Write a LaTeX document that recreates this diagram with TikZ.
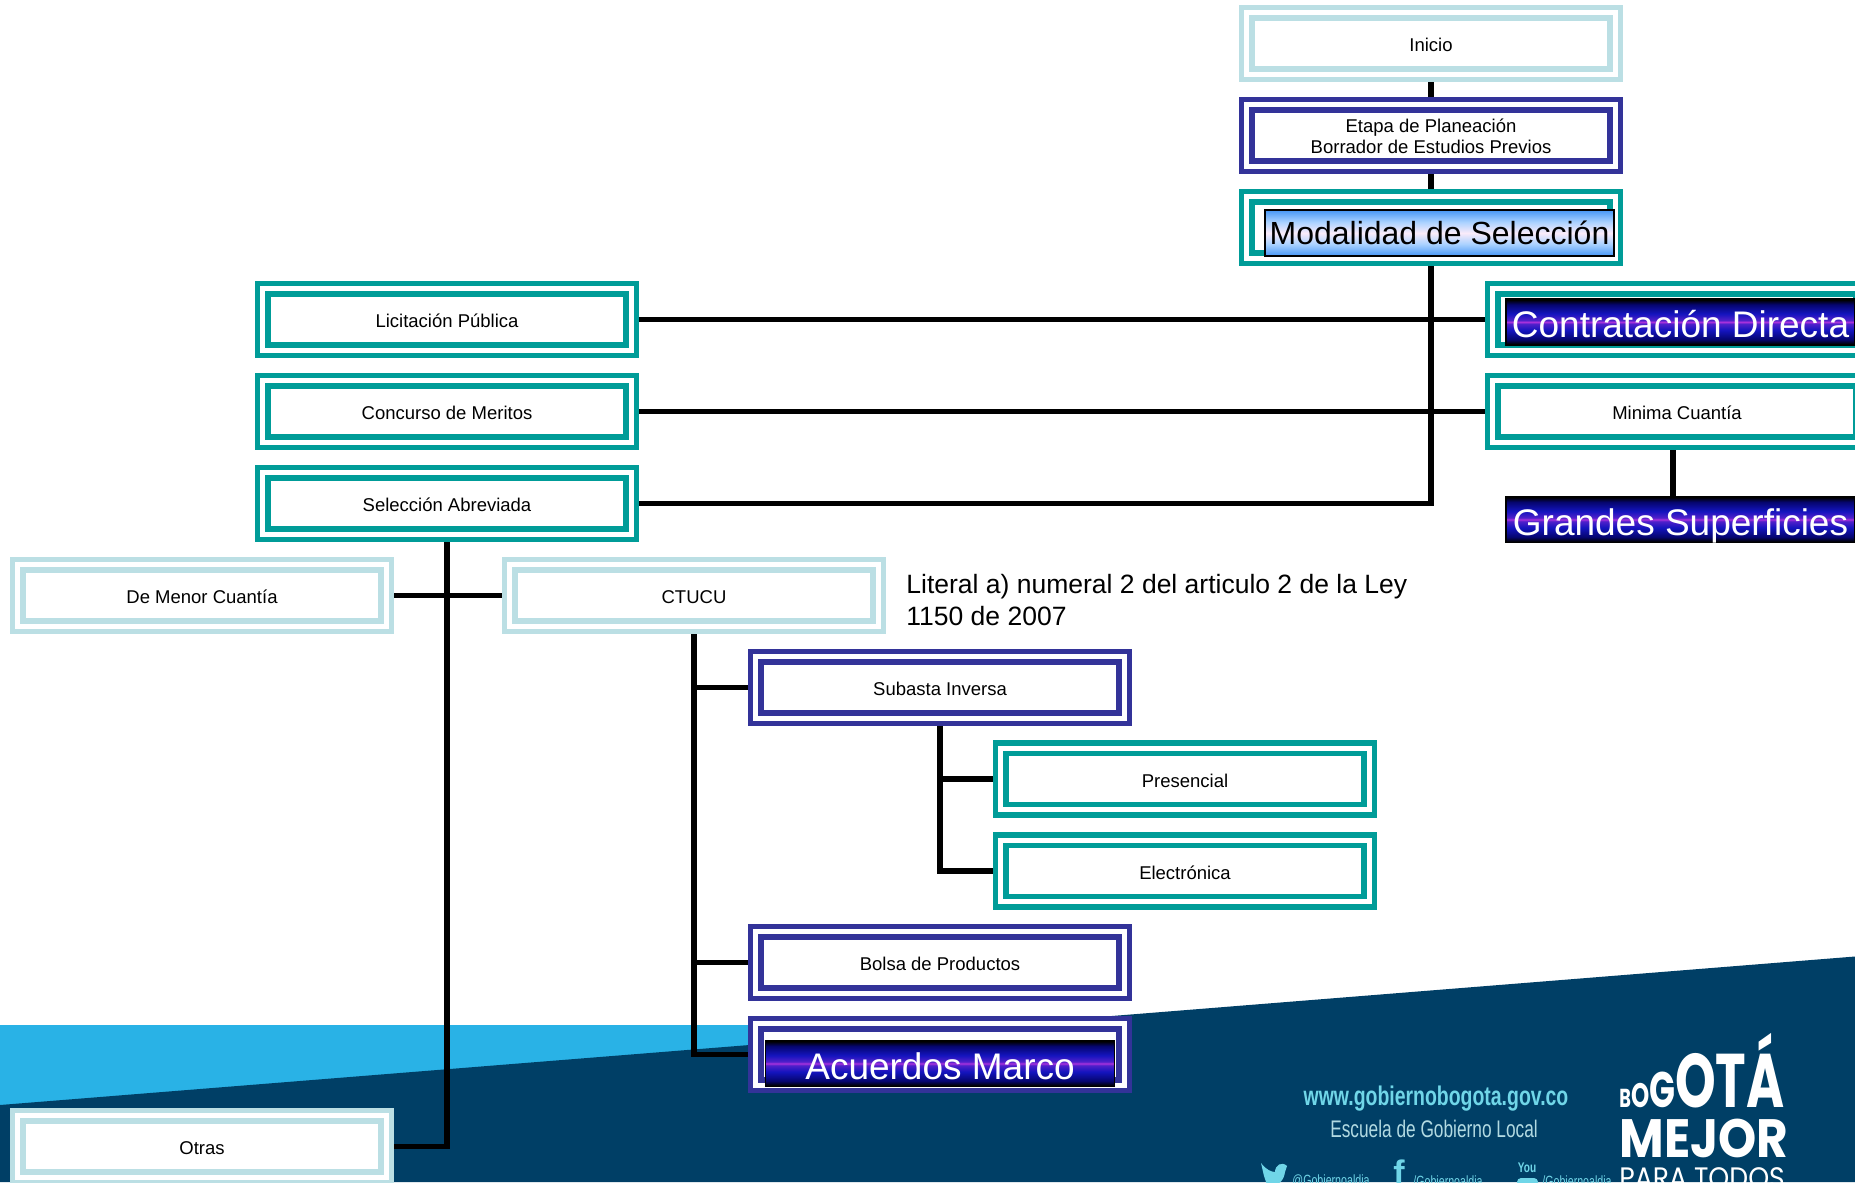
\documentclass[tikz,border=0pt]{standalone}
\usepackage{fontspec}
\setmainfont{Liberation Sans}
\newfontfamily\narrowfont[FakeStretch=0.72]{Liberation Sans}
\newfontfamily\logofont[FakeStretch=0.9]{Poppins}
\newfontfamily\logonarrow[FakeStretch=0.68]{Poppins}
\usetikzlibrary{backgrounds}
\definecolor{tealbox}{RGB}{0,156,152}
\definecolor{navybox}{RGB}{51,51,153}
\definecolor{palebox}{RGB}{187,223,228}
\definecolor{bandsky}{RGB}{41,178,230}
\definecolor{bandnavy}{RGB}{0,63,102}
\definecolor{webcyan}{RGB}{112,214,232}
\definecolor{webpale}{RGB}{178,218,226}
\definecolor{linepurple}{RGB}{170,50,220}
\definecolor{artblue}{RGB}{20,20,190}
\definecolor{artnavy}{RGB}{5,5,110}
\definecolor{lightblue}{RGB}{70,150,245}
\definecolor{lightpale}{RGB}{170,210,255}
\definecolor{lightpink}{RGB}{250,235,250}
\pgfdeclareverticalshading{wordartdark}{100bp}{
    color(0bp)=(black); color(25bp)=(black); color(26bp)=(black); color(31bp)=(artnavy); color(41bp)=(artblue); color(48bp)=(artblue!60!linepurple);
    color(50bp)=(linepurple); color(52bp)=(artblue!60!linepurple); color(59bp)=(artblue); color(69bp)=(artnavy); color(74bp)=(black); color(100bp)=(black)}
\pgfdeclareverticalshading{wordartlight}{100bp}{
    color(0bp)=(lightblue); color(25bp)=(lightblue); color(38bp)=(lightpale); color(50bp)=(lightpink);
    color(62bp)=(lightpale); color(75bp)=(lightblue); color(100bp)=(lightblue)}
\begin{document}
\begin{tikzpicture}[
            x=0.5pt, y=-0.5pt,
            stagebox/.style={rectangle, draw=#1, double=white, line width=2.8pt, double distance=2.4pt, fill=white,
                minimum width=184.3pt, minimum height=30.65pt, outer sep=4pt, inner sep=0pt,
                align=center, text height=8pt, text depth=0pt, font=\fontsize{9.25}{10.6}\selectfont},
            wordart/.style={rectangle, draw=black, line width=0.6pt, shading=#1, minimum width=174.5pt, minimum height=23pt,
                inner sep=0pt, text height=15.6pt, text depth=0pt, font=\fontsize{18.5}{20}\selectfont},
            link/.style={line width=2.8pt, black}
        ]
            \useasboundingbox (0,0) rectangle (1855,1182);
            \clip (0,0) rectangle (1855,1182);

            \node[stagebox=palebox] (inicio) at (1431,43.5) {Inicio};
            \node[stagebox=navybox, text height=18.5pt, text depth=-2pt] (etapa) at (1431,135.5) {Etapa de Planeación\\Borrador de Estudios Previos};
            \node[stagebox=tealbox] (modal) at (1431,227.5) {};
            \node[stagebox=tealbox] (licit) at (447,319.5) {Licitación Pública};
            \node[stagebox=tealbox] (concurso) at (447,411.5) {Concurso de Meritos};
            \node[stagebox=tealbox] (abrev) at (447,503.5) {Selección Abreviada};
            \node[stagebox=tealbox] (directa) at (1677,319.5) {};
            \node[stagebox=tealbox] (minima) at (1677,411.5) {Minima Cuantía};
            \node[stagebox=palebox] (menor) at (202,595.5) {De Menor Cuantía};
            \node[stagebox=palebox] (ctucu) at (694,595.5) {CTUCU};
            \node[stagebox=navybox] (subasta) at (940,687.5) {Subasta Inversa};
            \node[stagebox=tealbox] (presencial) at (1185,779) {Presencial};
            \node[stagebox=tealbox] (electronica) at (1185,871) {Electrónica};
            \node[stagebox=navybox] (bolsa) at (940,962.5) {Bolsa de Productos};
            \node[stagebox=navybox] (acuerdos) at (940,1054.5) {};
            \node[stagebox=palebox] (otras) at (202,1146.5) {Otras};

            % word art labels
            \node[wordart=wordartlight, text height=11.6pt, font=\fontsize{16}{18}\selectfont] (modaltitle) at (1439.5,233) {Modalidad de Selección};
            \node[wordart=wordartdark, text=white] (directatitle) at (1680.5,322) {Contratación Directa};
            \node[wordart=wordartdark, text=white] (grandes) at (1680.5,519.5) {Grandes Superficies};
            \node[wordart=wordartdark, text=white] (acuerdostitle) at (940,1063.5) {Acuerdos Marco};

            \node[anchor=west, align=left, inner sep=0pt, font=\fontsize{13.25}{16.2}\selectfont] (literal) at (906,600)
                {Literal a) numeral 2 del articulo 2 de la Ley\\1150 de 2007};

            % footer
            \node[text=webcyan, inner sep=0pt, font=\narrowfont\bfseries\fontsize{13.5}{16}\selectfont] (web) at (1436,1099) {www.gobiernobogota.gov.co};
            \node[text=webpale, inner sep=0pt, font=\narrowfont\fontsize{12}{15}\selectfont] (escuela) at (1434,1129) {Escuela de Gobierno Local};
            \node[text=webcyan, inner sep=0pt, font=\narrowfont\fontsize{7.4}{8}\selectfont] (twitter) at (1331,1181) {@Gobiernoaldia};
            \node[text=webcyan, inner sep=0pt, font=\narrowfont\fontsize{7.4}{8}\selectfont] (facebook) at (1448,1181) {/Gobiernoaldia};
            \node[text=webcyan, inner sep=0pt, font=\narrowfont\fontsize{7.4}{8}\selectfont] (youtube) at (1577,1181) {/Gobiernoaldia};
            \node[text=webcyan, inner sep=0pt, font=\bfseries\fontsize{17}{18}\selectfont] (fb) at (1399,1172) {f};
            \node[text=webcyan, inner sep=0pt, font=\narrowfont\bfseries\fontsize{7}{8}\selectfont] (you) at (1527,1168) {You};
            \fill[webcyan, rounded corners=2pt] (1517,1178) rectangle (1538,1192);
            \fill[webcyan] (1261,1163) .. controls (1266,1170) and (1272,1172) .. (1275,1172) .. controls (1275,1165) and (1282,1161) .. (1287,1166) -- (1285,1172) .. controls (1284,1180) and (1279,1186) .. (1268,1188) -- (1264,1176) -- cycle;

            \node[anchor=base west, inner sep=0pt, text=white, font=\logonarrow\bfseries] (bogota) at (1619,1107)
                {\fontsize{13}{13}\selectfont B\fontsize{17}{17}\selectfont O\fontsize{25}{25}\selectfont G\fontsize{38}{38}\selectfont OTÁ};
            \node[anchor=base west, inner sep=0pt, text=white, font=\logofont\bfseries\fontsize{27}{27}\selectfont] (mejor) at (1619,1157) {MEJOR};
            \node[anchor=base west, inner sep=0pt, text=white, font=\logofont\fontsize{14.8}{16}\selectfont] (paratodos) at (1619,1188) {PARA TODOS};

            \begin{scope}[on background layer]
                \fill[white] (0,0) rectangle (1855,1182);
                \fill[bandsky] (0,1025) rectangle (1000,1105);
                \fill[bandnavy] (0,1105) -- (1855,956.5) -- (1855,1182) -- (0,1182) -- cycle;

                \draw[link] (inicio) -- (etapa);
                \draw[link] (etapa) -- (modal);
                \draw[link] (modal) |- (abrev);
                \draw[link] (licit) -- (directa);
                \draw[link] (concurso) -- (minima);
                \draw[link] (abrev) |- (otras);
                \draw[link] (menor) -- (ctucu);
                \draw[link] (ctucu) |- (subasta);
                \draw[link] (ctucu) |- (bolsa);
                \draw[link] (ctucu) |- (acuerdos);
                \draw[link] (subasta) |- (presencial);
                \draw[link] (subasta) |- (electronica);
                \draw[link] ([xshift=-2pt]minima.south) -- ([xshift=-2pt]minima.south |- grandes.north);
            \end{scope}
        \end{tikzpicture}
\end{document}
